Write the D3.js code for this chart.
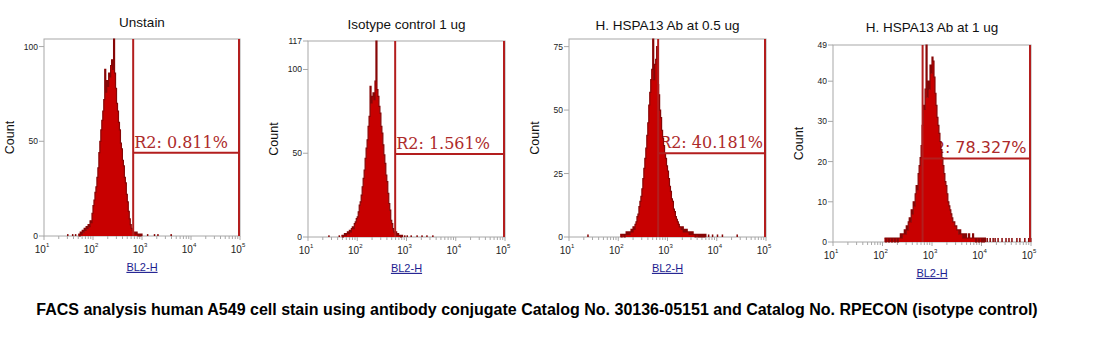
<!DOCTYPE html>
<html>
<head>
<meta charset="utf-8">
<script src="https://cdn.jsdelivr.net/npm/d3@7"></script>
<style>
  html, body { margin: 0; padding: 0; background: #fff; }
  svg { display: block; }
</style>
</head>
<body>
<div id="chart"></div>
<script>
// panel titles + axis text
const titles = ["Unstain", "Isotype control 1 ug", "H. HSPA13 Ab at 0.5 ug", "H. HSPA13 Ab at 1 ug"];
const xLabel = "BL2-H";
const yLabel = "Count";
const caption = "FACS analysis human A549 cell stain using antibody conjugate Catalog No. 30136-05151 and Catalog No. RPECON (isotype control)";

// y axis
const yMax = [104, 117, 78, 49];
const yTicks = [[0, 50, 100], [0, 50, 100, 117], [0, 25, 50, 75], [0, 10, 20, 30, 40, 49]];
// x axis decades (10^1 .. 10^5)
const xTickExps = [1, 2, 3, 4, 5];

// R2 gate: lower bound (log10 BL2-H), marker height (count), label
const gateStart = [2.82, 2.77, 2.81, 2.81];
const gateCount = [44, 49.5, 33, 20.8];
const gateLabels = ["R2: 0.811%", "R2: 1.561%", "R2: 40.181%", "R2: 78.327%"];

// histogram channels: first channel (log10) and width (log10)
const binStep = 0.02;
const binStart = [1.70, 1.68, 2.04, 2.04];

const counts1 = [1,0,2,1,3,2,4,3,5,4,6,5,8,7,12,16,19,23,26,31,36,44,50,56,61,66,72,88,76,82,
  79,86,84,90,93,88,104,86,78,70,66,60,56,49,46,40,37,31,28,22,18,13,9,6,4,3,2,2,1,2,1,0,1,0,1];
const counts2 = [1,0,1,2,1,2,3,2,4,3,5,6,5,8,9,11,12,15,19,21,25,30,35,40,47,53,58,66,72,90,
  80,84,86,82,93,117,88,84,78,74,66,62,55,49,44,37,33,26,20,16,10,8,5,3,2,3,1,2,1,1,0,1];
const counts3 = [1,0,1,1,0,1,2,1,2,1,2,3,2,4,3,5,6,8,9,12,14,16,19,23,27,31,35,40,45,52,
  57,62,66,78,62,68,70,75,60,56,50,47,42,39,36,33,31,28,26,23,20,18,15,14,11,10,8,7,6,5,
  4,4,3,4,2,3,2,3,2,2,1,2,1,2,1,1,0,1,1,0,1,0,1,0,1,0,1];
const counts4 = [1,0,1,1,0,1,1,0,1,1,0,1,1,0,1,1,2,1,2,2,3,2,4,3,5,6,5,8,7,10,
  9,12,14,13,17,19,21,24,29,34,33,38,49,36,40,38,44,42,46,45,41,37,34,31,29,27,25,23,21,19,
  17,15,14,12,10,9,8,7,6,5,5,4,4,3,3,2,3,2,2,1,2,1,2,1,1,2,1,1,1,2,1,1,0,1,1,0,1,1,0,1,0,1];
const counts = [counts1, counts2, counts3, counts4];

// isolated single events outside the main channels (log10 positions)
const tail1 = [1.47, 1.57, 1.63, 3.10, 3.24, 3.31, 3.58];
const tail2 = [1.41, 1.62, 2.95, 3.00, 3.08, 3.20, 3.30, 3.40, 3.52];
const tail3 = [1.37, 3.82, 3.90, 4.00, 4.10, 4.40];
const tail4 = [4.10, 4.16, 4.22, 4.26, 4.32, 4.40, 4.48, 4.54, 4.60, 4.70, 4.76, 4.86, 4.94, 4.98];
const tails = [tail1, tail2, tail3, tail4];

// layout (pixels)
const W = 1104, H = 351;
const layout = [
  {x0: 44, x1: 240, top: 39, bottom: 236, titleY: 22, gateFont: "DejaVu Serif"},
  {x0: 308, x1: 505, top: 41, bottom: 237, titleY: 24, gateFont: "DejaVu Serif"},
  {x0: 569, x1: 766, top: 39, bottom: 237, titleY: 25, gateFont: "DejaVu Serif"},
  {x0: 833, x1: 1031, top: 45, bottom: 242, titleY: 27, gateFont: "DejaVu Sans"}
];

const gateColor = "#b31e1e";
const histFill = "#c80000";
const histEdge = "#860606";
const frameColor = "#a8a8a8";

const svg = d3.select("#chart").append("svg")
  .attr("width", W)
  .attr("height", H)
  .style("font-family", "'Liberation Sans', Arial, sans-serif");

layout.forEach((L, p) => {
  const x = d3.scaleLog().domain([10, 1e5]).range([L.x0, L.x1]);
  const y = d3.scaleLinear().domain([0, yMax[p]]).range([L.bottom, L.top]);
  const g = svg.append("g").attr("class", "panel");

  // title
  g.append("text")
    .attr("x", (L.x0 + L.x1) / 2)
    .attr("y", L.titleY)
    .attr("dy", "0.35em")
    .attr("text-anchor", "middle")
    .style("font-size", "13.5px")
    .style("fill", "#111")
    .text(titles[p]);

  // frame
  g.append("rect")
    .attr("x", L.x0).attr("y", L.top)
    .attr("width", L.x1 - L.x0).attr("height", L.bottom - L.top)
    .style("fill", "none")
    .style("stroke", frameColor)
    .style("stroke-width", 1);

  // y ticks
  yTicks[p].forEach(v => {
    g.append("line")
      .attr("x1", L.x0 - 5).attr("x2", L.x0)
      .attr("y1", y(v)).attr("y2", y(v))
      .style("stroke", frameColor);
    g.append("text")
      .attr("x", L.x0 - 6)
      .attr("y", y(v))
      .attr("dy", "0.35em")
      .attr("text-anchor", "end")
      .style("font-size", "8.5px")
      .style("fill", "#222")
      .text(v);
  });

  // x ticks: decades + minor
  xTickExps.forEach(e => {
    const v = Math.pow(10, e);
    g.append("line")
      .attr("x1", x(v)).attr("x2", x(v))
      .attr("y1", L.bottom).attr("y2", L.bottom + 4)
      .style("stroke", frameColor);
    const t = g.append("text")
      .attr("x", x(v) - 2)
      .attr("y", L.bottom + 17)
      .attr("text-anchor", "middle")
      .style("font-size", "10px")
      .style("fill", "#222");
    t.append("tspan").text("10");
    t.append("tspan").attr("dy", -6).style("font-size", "6px").text(e);
    if (e < 5) {
      d3.range(2, 10).forEach(m => {
        g.append("line")
          .attr("x1", x(m * v)).attr("x2", x(m * v))
          .attr("y1", L.bottom).attr("y2", L.bottom + 3)
          .style("stroke", frameColor);
      });
    }
  });

  // axis labels
  g.append("text")
    .attr("x", (L.x0 + L.x1) / 2)
    .attr("y", L.bottom + 31)
    .attr("dy", "0.35em")
    .attr("text-anchor", "middle")
    .style("font-size", "11px")
    .style("fill", "#1c1c8f")
    .style("text-decoration", "underline")
    .text(xLabel);
  g.append("text")
    .attr("transform", `translate(${L.x0 - 34},${(L.top + L.bottom) / 2}) rotate(-90)`)
    .attr("dy", "0.35em")
    .attr("text-anchor", "middle")
    .style("font-size", "12.5px")
    .style("fill", "#111")
    .text(yLabel);

  // gate label (under the histogram)
  const gx = x(Math.pow(10, gateStart[p]));
  const gy = y(gateCount[p]);
  g.append("text")
    .attr("x", gx + 1)
    .attr("y", gy - 5)
    .style("font-family", L.gateFont)
    .style("font-size", "16px")
    .style("fill", "#ad2a2a")
    .text(gateLabels[p]);

  // histogram
  const pts = counts[p].map((c, i) => ({v: Math.pow(10, binStart[p] + i * binStep), c}));
  pts.push({v: Math.pow(10, binStart[p] + counts[p].length * binStep), c: 0});
  const area = d3.area()
    .curve(d3.curveStepAfter)
    .x(d => x(d.v))
    .y0(L.bottom)
    .y1(d => y(d.c));
  const line = d3.line()
    .curve(d3.curveStepAfter)
    .x(d => x(d.v))
    .y(d => y(d.c));
  g.append("path").datum(pts).attr("d", area).style("fill", histFill);
  g.append("path").datum(pts).attr("d", line)
    .style("fill", "none").style("stroke", histEdge).style("stroke-width", 1.2);

  g.selectAll("rect.tail")
    .data(tails[p])
    .join("rect")
    .attr("class", "tail")
    .attr("x", d => x(Math.pow(10, d)))
    .attr("y", y(1))
    .attr("width", 1.5)
    .attr("height", L.bottom - y(1))
    .style("fill", histEdge);

  // gate lines
  g.append("line")
    .attr("x1", gx).attr("x2", gx)
    .attr("y1", L.top).attr("y2", L.bottom)
    .style("stroke", gateColor).style("stroke-width", 2);
  g.append("line")
    .attr("x1", x(1e5) - 1).attr("x2", x(1e5) - 1)
    .attr("y1", L.top).attr("y2", L.bottom)
    .style("stroke", gateColor).style("stroke-width", 2);
  g.append("line")
    .attr("x1", gx).attr("x2", x(1e5) - 1)
    .attr("y1", gy).attr("y2", gy)
    .style("stroke", gateColor).style("stroke-width", 2);
});

// caption
svg.append("text")
  .attr("x", 537)
  .attr("y", 315)
  .attr("text-anchor", "middle")
  .style("font-size", "16px")
  .style("font-weight", "bold")
  .style("fill", "#000")
  .text(caption);
</script>
</body>
</html>
